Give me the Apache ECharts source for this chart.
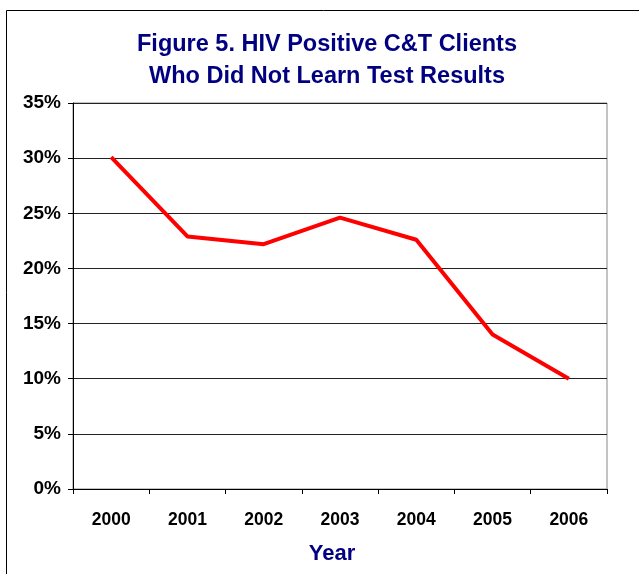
<!DOCTYPE html>
<html>
<head>
<meta charset="utf-8">
<script src="https://cdn.jsdelivr.net/npm/echarts@6/dist/echarts.min.js"></script>
<style>
  html, body { margin: 0; padding: 0; background: #fff; }
  #myChart { width: 639px; height: 574px; }
</style>
</head>
<body>
<div id="myChart"></div>
<script>
// data
const years = ["2000", "2001", "2002", "2003", "2004", "2005", "2006"];
const notLearned = [30.1, 22.9, 22.2, 24.6, 22.6, 14.0, 10.0];

let myChart = echarts.init(document.getElementById("myChart"));
myChart.setOption({
  animation: false,
  backgroundColor: "#fff",
  title: {
    text: "Figure 5. HIV Positive C&T Clients\nWho Did Not Learn Test Results",
    left: 322,
    textAlign: "center",
    top: 24,
    textStyle: {
      color: "#000080",
      fontFamily: "Liberation Sans",
      fontWeight: "bold",
      fontSize: 23.5,
      lineHeight: 32
    }
  },
  graphic: [
    {
      type: "rect",
      shape: { x: 6.5, y: 10.5, width: 700, height: 700 },
      style: { fill: "none", stroke: "#000", lineWidth: 1 },
      silent: true
    }
  ],
  grid: {
    left: 73,
    right: 32,
    top: 103,
    bottom: 85,
    show: true,
    borderColor: "#888",
    borderWidth: 1
  },
  xAxis: {
    type: "category",
    data: years,
    boundaryGap: true,
    name: "Year",
    nameLocation: "middle",
    nameGap: 54,
    nameTextStyle: {
      color: "#000080",
      fontFamily: "Liberation Sans",
      fontWeight: "bold",
      fontSize: 22,
      padding: [0, 16, 0, 0]
    },
    axisLine: { lineStyle: { color: "#000", width: 1 } },
    axisTick: { show: true, length: 5, inside: false, lineStyle: { color: "#000" } },
    axisLabel: {
      color: "#000",
      fontFamily: "Liberation Sans",
      fontWeight: "bold",
      fontSize: 17.5,
      margin: 22
    },
    splitLine: { show: false }
  },
  yAxis: {
    type: "value",
    min: 0,
    max: 35,
    interval: 5,
    axisLine: { show: true, lineStyle: { color: "#000", width: 1 } },
    axisTick: { show: true, length: 5, lineStyle: { color: "#000" } },
    axisLabel: {
      formatter: "{value}%",
      color: "#000",
      fontFamily: "Liberation Sans",
      fontWeight: "bold",
      fontSize: 19,
      margin: 12
    },
    splitLine: { show: true, lineStyle: { color: "#222", width: 1 } }
  },
  series: [
    {
      name: "Not learned",
      type: "line",
      data: notLearned,
      symbol: "none",
      lineStyle: { color: "#ff0000", width: 4 },
      itemStyle: { color: "#ff0000" }
    }
  ]
});
</script>
</body>
</html>
